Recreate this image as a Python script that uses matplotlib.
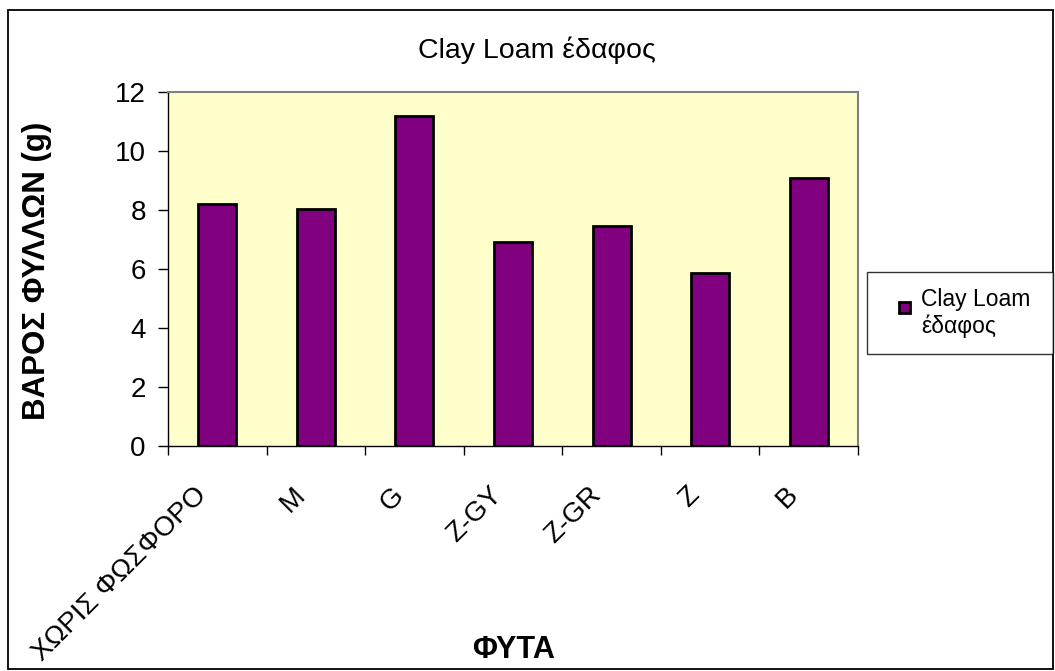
import matplotlib
matplotlib.use("Agg")
import matplotlib.pyplot as plt
from matplotlib.patches import Rectangle
from matplotlib.legend_handler import HandlerPatch, update_from_first_child
from matplotlib.container import BarContainer
from matplotlib.transforms import ScaledTranslation

categories = ["ΧΩΡΙΣ ΦΩΣΦΟΡΟ", "M", "G", "Z-GY", "Z-GR", "Z", "B"]
values = [8.2, 8.05, 11.2, 6.9, 7.45, 5.85, 9.1]
series_name = "Clay Loam\nέδαφος"
title = "Clay Loam έδαφος"
yticks = [0, 2, 4, 6, 8, 10, 12]

plt.rcParams['font.family'] = ['Liberation Sans', 'DejaVu Sans']

W, H = 1055, 671
fig = plt.figure(figsize=(W/100, H/100), dpi=100)
fig.patch.set_facecolor('white')
fig.add_artist(Rectangle((8/W, 1-669/H), 1045/W, 659/H, transform=fig.transFigure,
                         fill=False, edgecolor='black', linewidth=1.3))

ax = fig.add_axes([168/W, 1-446/H, 690/W, 354/H])
ax.set_facecolor('#FFFFCC')
x = list(range(len(categories)))
ax.bar(x, values, width=0.385, color='#800080', edgecolor='black', linewidth=2,
       label=series_name, zorder=3)
ax.set_xlim(-0.5, len(categories)-0.5)
ax.set_ylim(0, 12)
ax.set_yticks(yticks)
ax.set_yticklabels([str(v) for v in yticks], fontsize=20)
ax.tick_params(axis='y', direction='out', length=7, width=1, pad=9)

ax.set_xticks([i + 0.5 for i in range(-1, len(categories))], minor=False)
ax.set_xticklabels([])
ax.set_xticks(x, minor=True)
ax.set_xticklabels(categories, minor=True, rotation=45, ha='right', va='top',
                   rotation_mode='anchor', fontsize=20)
ax.tick_params(axis='x', which='major', direction='out', length=6.5, width=1)
ax.tick_params(axis='x', which='minor', length=0, pad=26)
shift = ScaledTranslation(-24/100, 0, fig.dpi_scale_trans)
for lbl in ax.get_xticklabels(minor=True):
    lbl.set_transform(lbl.get_transform() + shift)

for s in ['top', 'right']:
    ax.spines[s].set_color('#808080')
    ax.spines[s].set_linewidth(1.5)
for s in ['left', 'bottom']:
    ax.spines[s].set_color('black')
    ax.spines[s].set_linewidth(1)

fig.text(537/W, 1-58/H, title, ha='center', va='baseline', fontsize=20.5)
fig.text(37/W, 1-271/H, "ΒΑΡΟΣ ΦΥΛΛΩΝ (g)", ha='center', va='center',
         rotation=90, fontsize=22.5, fontweight='bold')
fig.text(514/W, 1-658/H, "ΦΥΤΑ", ha='center', va='baseline', fontsize=22,
         fontweight='bold')


def square_patch(legend, orig_handle, xdescent, ydescent, width, height, fontsize):
    s = 11 * 72 / 100.0
    return Rectangle((-xdescent + width - s, -ydescent + height - s - 0.23 * fontsize), s, s)


leg = fig.legend(loc='upper left', bbox_to_anchor=(867/W, 1-357/H, 186/W, 85/H),
                 mode='expand', frameon=True, fancybox=False, fontsize=16.5,
                 handlelength=1.18, handleheight=2.0, handletextpad=0.48,
                 borderpad=0.7, borderaxespad=0,
                 handler_map={BarContainer: HandlerPatch(patch_func=square_patch,
                                                         update_func=update_from_first_child)})
leg.get_frame().set_edgecolor('black')
leg.get_frame().set_linewidth(1)

fig.savefig('out.png', dpi=100)
